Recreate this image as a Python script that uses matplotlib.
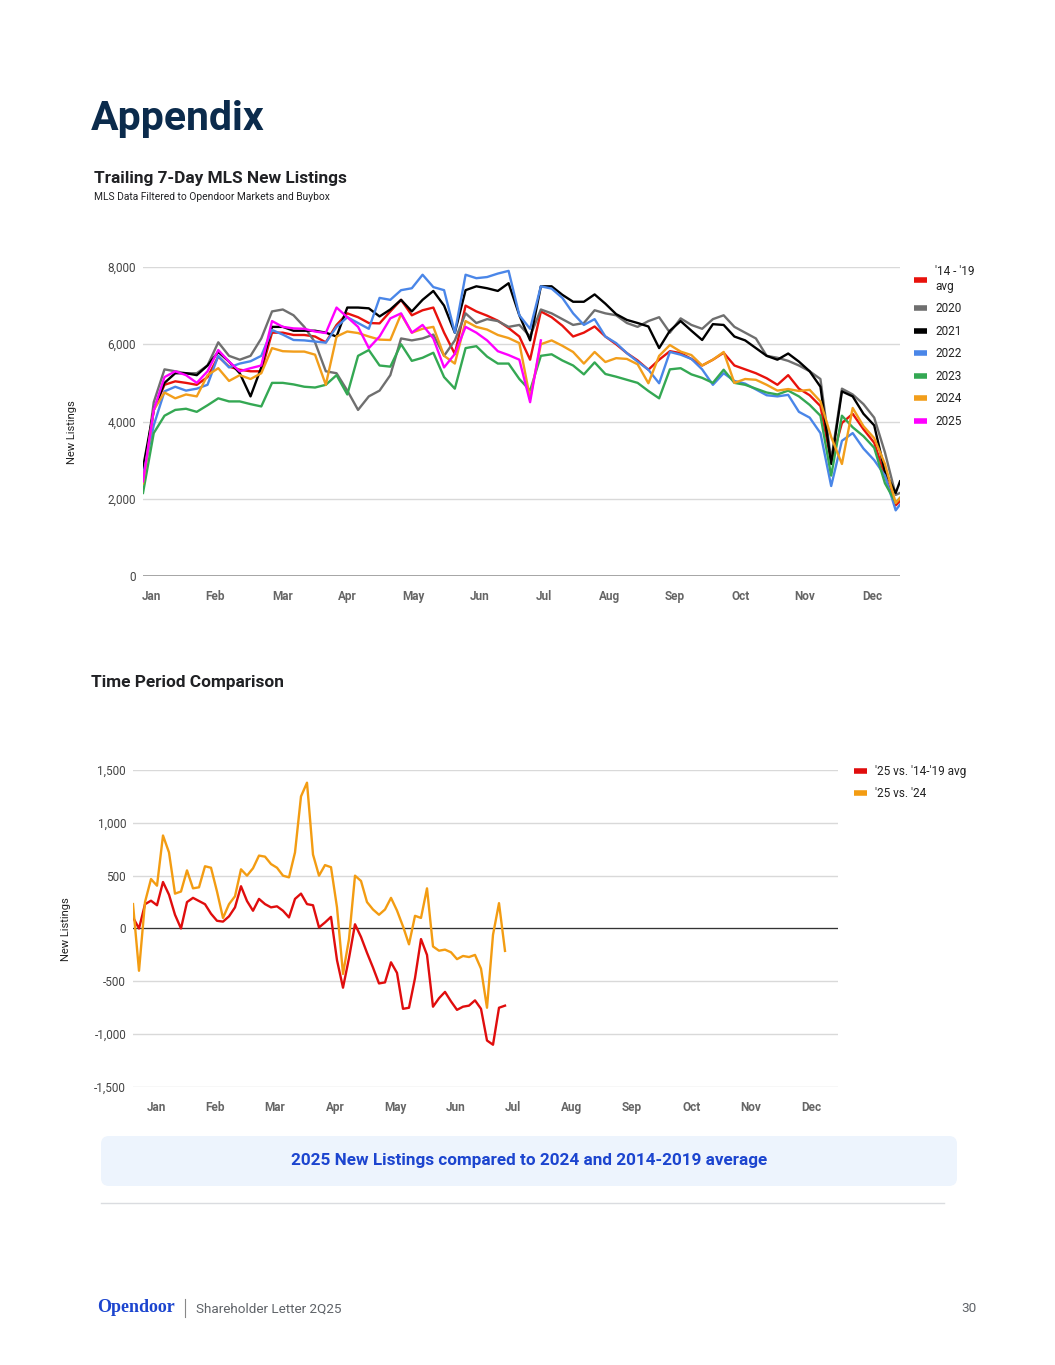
import matplotlib.pyplot as plt
from matplotlib.lines import Line2D
from matplotlib.patches import FancyBboxPatch

plt.rcParams['font.family'] = ['Roboto', 'DejaVu Sans']

# ---- top chart data (trailing 7-day new listings, sampled every 5 days) ----
days_top = list(range(0, 351, 5)) + [352]
months = ['Jan', 'Feb', 'Mar', 'Apr', 'May', 'Jun', 'Jul', 'Aug', 'Sep', 'Oct', 'Nov', 'Dec']
top_ticks = [3.7, 33.5, 64.7, 94.9, 125.6, 156.7, 186.5, 216.7, 247.4, 277.7, 307.9, 339.1]

avg_14_19 = [2400, 4300, 4950, 5040, 5000, 4950, 5150, 5680, 5420, 5340, 5300, 5300,
             6300, 6300, 6240, 6240, 6200, 6050, 6500, 6800, 6700, 6550, 6540, 6850,
             7150, 6750, 6880, 6950, 6300, 5750, 7000, 6850, 6740, 6610, 6420, 6200,
             5600, 6850, 6700, 6480, 6200, 6300, 6460, 6200, 6000, 5770, 5580, 5340,
             5600, 5820, 5770, 5620, 5450, 5600, 5780, 5450, 5350, 5250, 5120, 4950,
             5200, 4850, 4680, 4400, 2950, 3960, 4200, 3800, 3450, 2600, 1830, 1940]
y2020 = [2400, 4500, 5350, 5300, 5250, 5250, 5450, 6050, 5700, 5600, 5700, 6150,
         6850, 6900, 6750, 6450, 6050, 5300, 5250, 4800, 4300, 4650, 4800, 5200,
         6150, 6100, 6150, 6250, 5700, 6100, 6800, 6550, 6650, 6600, 6450, 6500,
         6200, 6900, 6800, 6650, 6500, 6550, 6880, 6800, 6750, 6550, 6450, 6600,
         6700, 6300, 6670, 6500, 6400, 6650, 6750, 6450, 6300, 6150, 5700, 5650,
         5570, 5450, 5300, 5100, 3000, 4850, 4700, 4450, 4100, 3200, 2100, 2150]
y2021 = [2800, 4300, 5000, 5250, 5250, 5200, 5450, 5800, 5550, 5250, 4650, 5400,
         6450, 6450, 6350, 6350, 6350, 6300, 6200, 6950, 6950, 6930, 6720, 6900,
         7150, 6850, 7150, 7380, 7000, 6300, 7400, 7500, 7450, 7380, 7580, 6750,
         6100, 7500, 7500, 7280, 7100, 7100, 7290, 7050, 6780, 6630, 6550, 6460,
         5900, 6350, 6600, 6350, 6110, 6520, 6500, 6200, 6100, 5900, 5700, 5600,
         5760, 5550, 5300, 4900, 2900, 4780, 4650, 4200, 3900, 2700, 2150, 2450]
y2022 = [2600, 3900, 4780, 4900, 4800, 4850, 4950, 5700, 5400, 5500, 5560, 5700,
         6370, 6250, 6110, 6100, 6070, 6040, 6450, 6700, 6550, 6400, 7200, 7150,
         7400, 7450, 7800, 7480, 7400, 6300, 7800, 7710, 7740, 7830, 7900, 6750,
         6400, 7500, 7440, 7200, 6800, 6500, 6650, 6200, 6030, 5770, 5550, 5340,
         4990, 5800, 5730, 5620, 5350, 4950, 5250, 5050, 4980, 4830, 4680, 4650,
         4690, 4250, 4100, 3700, 2330, 3500, 3700, 3300, 3000, 2600, 1700, 1850]
y2023 = [2150, 3700, 4150, 4300, 4330, 4250, 4420, 4600, 4520, 4520, 4450, 4390,
         5000, 5000, 4960, 4900, 4880, 4950, 5200, 4700, 5700, 5850, 5450, 5420,
         6000, 5570, 5650, 5780, 5150, 4850, 5900, 5950, 5680, 5500, 5500, 5100,
         4800, 5700, 5740, 5580, 5450, 5220, 5530, 5230, 5160, 5080, 5000, 4790,
         4600, 5350, 5380, 5220, 5130, 5000, 5340, 5000, 4950, 4850, 4750, 4700,
         4800, 4650, 4430, 4150, 2600, 4150, 3850, 3620, 3320, 2400, 1900, 2020]
y2024 = [2400, 4300, 4750, 4600, 4700, 4650, 5200, 5380, 5050, 5200, 5100, 5250,
         5900, 5820, 5810, 5810, 5730, 4950, 6200, 6330, 6290, 6200, 6120, 6110,
         6780, 6300, 6400, 6450, 5700, 5500, 6600, 6450, 6380, 6240, 6160, 6030,
         4600, 6000, 6100, 5960, 5800, 5500, 5800, 5540, 5640, 5620, 5480, 4990,
         5700, 5980, 5810, 5720, 5450, 5600, 5800, 5000, 5100, 5080, 4950, 4800,
         4840, 4790, 4820, 4520, 3600, 2900, 4350, 3880, 3570, 2900, 1890, 2020]
y2025 = [2450, 4300, 5150, 5300, 5200, 5000, 5300, 5850, 5550, 5300, 5380, 5450,
         6600, 6450, 6410, 6400, 6330, 6290, 6950, 6700, 6450, 5900, 6200, 6670,
         6800, 6300, 6500, 6150, 5400, 5750, 6450, 6300, 6100, 5820, 5720, 5600,
         4500, 6100]

top_series = [
    ("'14 - '19\navg", avg_14_19, '#e8120c'),
    ('2020', y2020, '#6f6f6f'),
    ('2021', y2021, '#000000'),
    ('2022', y2022, '#4a86e8'),
    ('2023', y2023, '#34a853'),
    ('2024', y2024, '#f29e1b'),
    ('2025', y2025, '#ff00ff'),
]

# ---- bottom chart data (differences, sampled every 3 days) ----
days_bot = list(range(0, 187, 3))
bot_ticks = [11.5, 41, 71, 101, 131, 161.5, 190, 219.5, 249.5, 279.5, 309, 339]

vs_avg = [105, 0, 230, 263, 220, 440, 320, 130, 0, 250,
          290, 260, 230, 140, 73, 65, 115, 200, 400, 260,
          168, 280, 231, 200, 210, 168, 105, 280, 330, 231,
          220, 10, 57, 110, -300, -560, -280, 40, -80, -230,
          -370, -520, -510, -320, -420, -760, -750, -470, -100, -250,
          -740, -660, -600, -690, -770, -740, -730, -680, -760, -1060,
          -1100, -750, -730]
vs_2024 = [231, -400, 250, 468, 405, 880, 720, 330, 350, 550,
           380, 390, 589, 575, 350, 100, 230, 305, 560, 500,
           570, 690, 680, 610, 575, 500, 484, 720, 1250, 1380,
           700, 500, 600, 580, 200, -430, -100, 500, 450, 250,
           180, 130, 180, 290, 170, 20, -150, 120, 100, 380,
           -170, -210, -200, -225, -290, -260, -270, -250, -380, -750,
           -60, 240, -212]

bot_series = [
    ("'25 vs. '14-'19 avg", vs_avg, '#e00d0d'),
    ("'25 vs. '24", vs_2024, '#f39c12'),
]

W, H = 1055, 1365
fig = plt.figure(figsize=(W / 100, H / 100), dpi=100)


def box(x0, y0, x1, y1):
    # pixel box (top-left origin) -> figure fraction rect
    return [x0 / W, 1 - y1 / H, (x1 - x0) / W, (y1 - y0) / H]


# page layer for the text and decorations
page = fig.add_axes([0, 0, 1, 1])
page.set_xlim(0, W)
page.set_ylim(H, 0)
page.axis('off')

page.text(91, 119, 'Appendix', fontsize=29.5, fontweight='bold', color='#0b2b4c', va='center')
page.text(94, 178, 'Trailing 7-Day MLS New Listings', fontsize=12.4, fontweight='bold',
          color='#202124', va='center')
page.text(94, 197, 'MLS Data Filtered to Opendoor Markets and Buybox', fontsize=7.4,
          color='#202124', va='center')
page.text(91, 682, 'Time Period Comparison', fontsize=12.4, fontweight='bold',
          color='#202124', va='center')

page.add_patch(FancyBboxPatch((101, 1136), 856, 50, boxstyle='round,pad=0,rounding_size=8',
                              facecolor='#edf4fd', edgecolor='none'))
page.text(529, 1161, '2025 New Listings compared to 2024 and 2014-2019 average', fontsize=12.3,
          fontweight='bold', color='#1c45cf', ha='center', va='center')
page.plot([101, 944], [1203, 1203], color='#dadce0', lw=1)

page.text(97, 1308, 'Opendoor', fontsize=13, fontweight='bold', color='#1c45cf',
          family=['Liberation Serif', 'DejaVu Serif'], va='center')
page.plot([185, 185], [1299, 1317], color='#888888', lw=0.8)
page.text(196, 1309, 'Shareholder Letter 2Q25', fontsize=9.7, color='#5f6368', va='center')
page.text(977, 1309, '30', fontsize=9.7, color='#5f6368', va='center', ha='right')

# ---- top chart ----
ax1 = fig.add_axes(box(143, 267, 900, 576))
for label, vals, color in top_series:
    ax1.plot(days_top[:len(vals)], vals, color=color, lw=1.7, label=label)
ax1.set_xlim(0, 352)
ax1.set_ylim(0, 8000)
ax1.set_yticks([0, 2000, 4000, 6000, 8000])
ax1.set_yticklabels(['0', '2,000', '4,000', '6,000', '8,000'])
ax1.set_xticks(top_ticks)
ax1.set_xticklabels(months, fontweight='bold')
ax1.grid(axis='y', color='#d9d9d9', lw=1)
ax1.set_axisbelow(True)
ax1.axhline(0, color='#9e9e9e', lw=2)
for s in ax1.spines.values():
    s.set_visible(False)
ax1.tick_params(axis='y', length=0, pad=5, labelsize=8.5, labelcolor='#444444')
ax1.tick_params(axis='x', length=0, pad=10, labelsize=8.5, labelcolor='#666666')
page.text(72, 432, 'New Listings', rotation=90, fontsize=8, color='#222222',
          ha='center', va='center')

handles = [Line2D([0], [0], color=c, lw=4, solid_capstyle='butt') for _, _, c in top_series]
ax1.legend(handles, [s[0] for s in top_series], loc='upper left',
           bbox_to_anchor=(914 / W, 1 - 265 / H), bbox_transform=fig.transFigure,
           frameon=False, fontsize=8.5, handlelength=1.1, handletextpad=0.7,
           labelspacing=0.8, borderaxespad=0, borderpad=0, labelcolor='#222222')

# ---- bottom chart ----
ax2 = fig.add_axes(box(133, 770, 838, 1087))
for label, vals, color in bot_series:
    ax2.plot(days_bot, vals, color=color, lw=1.7, label=label)
ax2.set_xlim(0, 352.5)
ax2.set_ylim(-1500, 1500)
ax2.set_yticks([-1500, -1000, -500, 0, 500, 1000, 1500])
ax2.set_yticklabels(['-1,500', '-1,000', '-500', '0', '500', '1,000', '1,500'])
ax2.set_xticks(bot_ticks)
ax2.set_xticklabels(months, fontweight='bold')
ax2.grid(axis='y', color='#d9d9d9', lw=1)
ax2.set_axisbelow(True)
ax2.axhline(0, color='#333333', lw=0.9, zorder=1)
for s in ax2.spines.values():
    s.set_visible(False)
ax2.tick_params(axis='y', length=0, pad=5, labelsize=8.5, labelcolor='#444444')
ax2.tick_params(axis='x', length=0, pad=10, labelsize=8.5, labelcolor='#666666')
page.text(66, 929, 'New Listings', rotation=90, fontsize=8, color='#222222',
          ha='center', va='center')

handles2 = [Line2D([0], [0], color=c, lw=4, solid_capstyle='butt') for _, _, c in bot_series]
ax2.legend(handles2, [s[0] for s in bot_series], loc='upper left',
           bbox_to_anchor=(854 / W, 1 - 765 / H), bbox_transform=fig.transFigure,
           frameon=False, fontsize=8.5, handlelength=1.1, handletextpad=0.7,
           labelspacing=0.75, borderaxespad=0, borderpad=0, labelcolor='#222222')

fig.savefig('out.png', dpi=100, facecolor='white')
